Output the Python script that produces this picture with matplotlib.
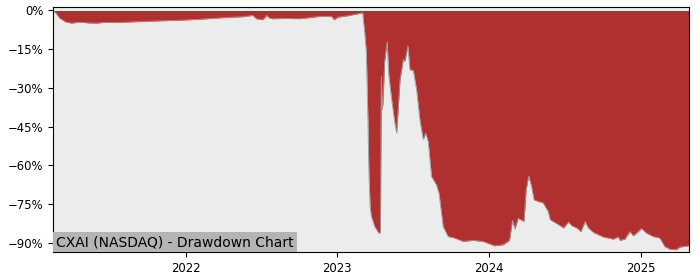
import pandas as pd
import matplotlib
matplotlib.use("Agg")
import matplotlib.pyplot as plt
import matplotlib.dates as mdates
from matplotlib.ticker import MultipleLocator, PercentFormatter

titulo = "CXAI (NASDAQ) - Drawdown Chart"

fechas = [
    "2021-02-15", "2021-02-22", "2021-03-03", "2021-03-18", "2021-04-01", "2021-04-20",
    "2021-05-10", "2021-05-31", "2021-06-20", "2021-07-20", "2021-08-26", "2021-10-15",
    "2021-12-15", "2022-02-03", "2022-04-10", "2022-05-20", "2022-06-11", "2022-06-20",
    "2022-07-05", "2022-07-10", "2022-07-15", "2022-07-22", "2022-07-29", "2022-09-01",
    "2022-10-03", "2022-11-20", "2022-12-18", "2022-12-24", "2023-01-03", "2023-01-31",
    "2023-02-28", "2023-03-03", "2023-03-08", "2023-03-12", "2023-03-14", "2023-03-16",
    "2023-03-18", "2023-03-21", "2023-03-24", "2023-04-01", "2023-04-11", "2023-04-15",
    "2023-04-17", "2023-04-19", "2023-04-21", "2023-04-25", "2023-05-01", "2023-05-05",
    "2023-05-12", "2023-05-20", "2023-05-24", "2023-05-27", "2023-06-01", "2023-06-09",
    "2023-06-13", "2023-06-20", "2023-06-25", "2023-07-03", "2023-07-11", "2023-07-19",
    "2023-07-27", "2023-08-02", "2023-08-08", "2023-08-16", "2023-08-28", "2023-09-03",
    "2023-09-13", "2023-09-25", "2023-10-11", "2023-10-31", "2023-11-24", "2023-12-18",
    "2024-01-15", "2024-02-04", "2024-02-20", "2024-02-27", "2024-03-04", "2024-03-12",
    "2024-03-20", "2024-03-26", "2024-03-31", "2024-04-06", "2024-04-13", "2024-04-19",
    "2024-04-29", "2024-05-11", "2024-05-23", "2024-05-28", "2024-06-17", "2024-06-29",
    "2024-07-11", "2024-07-19", "2024-07-31", "2024-08-10", "2024-08-20", "2024-08-28",
    "2024-09-09", "2024-10-03", "2024-10-27", "2024-11-08", "2024-11-12", "2024-11-24",
    "2024-12-06", "2024-12-14", "2024-12-22", "2025-01-03", "2025-01-15", "2025-01-31",
    "2025-02-16", "2025-02-28", "2025-03-12", "2025-03-28", "2025-04-05", "2025-04-27",
]

drawdown = [
    0.0, -1.0, -3.0, -4.5, -4.9, -4.5,
    -4.8, -4.9, -4.6, -4.7, -4.4, -4.1,
    -3.8, -3.4, -2.7, -2.4, -1.9, -3.2,
    -3.6, -2.8, -1.9, -3.0, -3.2, -3.1,
    -3.2, -2.3, -2.3, -3.6, -2.6, -1.9,
    -1.0, -0.8, -8.6, -16.4, -30.0, -44.0,
    -61.7, -76.0, -79.8, -83.7, -86.3, -86.0,
    -25.5, -38.5, -36.0, -20.0, -12.0, -25.0,
    -34.6, -44.0, -47.5, -40.0, -27.0, -19.0,
    -19.7, -13.7, -23.0, -23.2, -30.7, -42.4,
    -50.0, -47.5, -50.8, -64.3, -67.6, -70.8,
    -83.7, -87.6, -88.2, -89.5, -89.1, -89.5,
    -91.2, -90.8, -89.1, -81.3, -84.7, -80.5,
    -81.3, -81.7, -69.5, -64.1, -68.2, -73.4,
    -74.0, -74.6, -77.9, -81.1, -83.0, -84.3,
    -82.0, -83.4, -84.3, -85.7, -81.8, -84.3,
    -86.0, -87.8, -88.6, -87.8, -89.1, -88.6,
    -85.7, -87.3, -86.3, -84.5, -86.3, -87.6,
    -88.2, -91.5, -92.5, -92.7, -91.7, -91.2,
]

df = pd.DataFrame({"fecha": pd.to_datetime(fechas), "dd": drawdown})

fig = plt.figure(figsize=(7, 2.8), dpi=100)
ax = fig.add_axes([0.0757, 0.1, 0.9083, 0.875])
ax.set_facecolor("#ececec")

# area de drawdown con un borde gris fino
ax.fill_between(df["fecha"], df["dd"], 0, color="#b03030", linewidth=0)
ax.plot(df["fecha"], df["dd"], color="#9a9a9a", linewidth=0.6)

ax.set_xlim(df["fecha"].iloc[0], df["fecha"].iloc[-1])
ax.set_ylim(-93.6, 1.35)
ax.yaxis.set_major_locator(MultipleLocator(15))
ax.yaxis.set_major_formatter(PercentFormatter(xmax=100, decimals=0))
ax.xaxis.set_major_locator(mdates.YearLocator())
ax.xaxis.set_major_formatter(mdates.DateFormatter("%Y"))
ax.tick_params(labelsize="small")

ax.text(0.005, 0.012, titulo, transform=ax.transAxes, fontsize=10,
        ha="left", va="bottom",
        bbox=dict(boxstyle="square,pad=0.2", facecolor="#b4b4b4", edgecolor="none"))

plt.savefig("out.png", dpi=100)
